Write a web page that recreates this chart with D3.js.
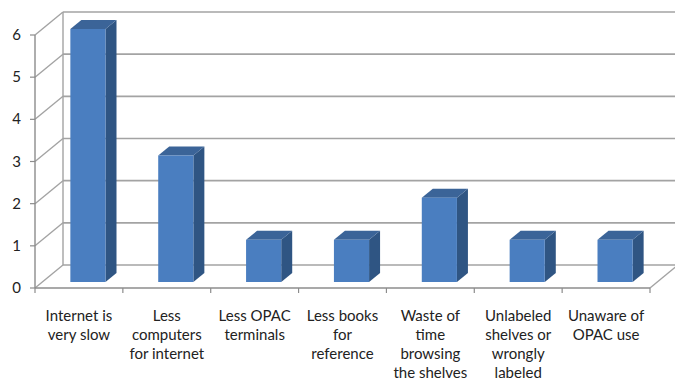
<!DOCTYPE html>
<meta charset="utf-8">
<head>
	<title>Problems faced</title>
</head>
<style>
	body { margin: 0; background: #fff; }
	text { font-family: Lato, "Open Sans", sans-serif; fill: #222; }
</style>
<body>
	<svg width="675" height="380"></svg>

	<script src="https://d3js.org/d3.v7.min.js"></script>
	<script>
var categories = [
	["Internet is", "very slow"],
	["Less", "computers", "for internet"],
	["Less OPAC", "terminals"],
	["Less books", "for", "reference"],
	["Waste of", "time", "browsing", "the shelves"],
	["Unlabeled", "shelves or", "wrongly", "labeled"],
	["Unaware of", "OPAC use"]
];
var values = [6, 3, 1, 1, 2, 1, 1];
var yTicks = [0, 1, 2, 3, 4, 5, 6];

// projection of the depth axis
var depth = {dx: 28, dy: -23};
var barFront = {dx: 9, dy: -6};
var barDepth = {dx: 11, dy: -9};

var svg = d3.select('svg');

var x = d3.scaleBand()
	.domain(d3.range(categories.length))
	.range([35, 650]);

var y = d3.scaleLinear()
	.domain([0, 6])
	.range([288, 35]);

var gridColor = '#a3a3a3';
var bw = x.bandwidth() * 0.4;

// back wall gridlines
svg.append('g').selectAll('line')
	.data(yTicks)
	.enter().append('line')
	.attr('x1', 35 + depth.dx)
	.attr('x2', 680)
	.attr('y1', function(d) {return y(d) + depth.dy;})
	.attr('y2', function(d) {return y(d) + depth.dy;})
	.attr('stroke', gridColor)
	.attr('stroke-width', 1.6);

// side wall diagonals
svg.append('g').selectAll('line')
	.data(yTicks)
	.enter().append('line')
	.attr('x1', 35)
	.attr('x2', 35 + depth.dx)
	.attr('y1', function(d) {return y(d);})
	.attr('y2', function(d) {return y(d) + depth.dy;})
	.attr('stroke', gridColor)
	.attr('stroke-width', 1.4);

// back wall left edge
svg.append('line')
	.attr('x1', 35 + depth.dx).attr('x2', 35 + depth.dx)
	.attr('y1', y(0) + depth.dy).attr('y2', y(6) + depth.dy)
	.attr('stroke', gridColor).attr('stroke-width', 1.4);

// floor right edge
svg.append('line')
	.attr('x1', 650).attr('x2', 650 + depth.dx)
	.attr('y1', y(0)).attr('y2', y(0) + depth.dy)
	.attr('stroke', gridColor).attr('stroke-width', 1.4);

// front axes
svg.append('line')
	.attr('x1', 35).attr('x2', 35)
	.attr('y1', y(0)).attr('y2', y(6))
	.attr('stroke', '#8c8c8c').attr('stroke-width', 1.4);
svg.append('line')
	.attr('x1', 35).attr('x2', 650)
	.attr('y1', y(0)).attr('y2', y(0))
	.attr('stroke', '#8c8c8c').attr('stroke-width', 1.4);

// y ticks and labels
var yAxis = svg.append('g');
yAxis.selectAll('line')
	.data(yTicks)
	.enter().append('line')
	.attr('x1', 30).attr('x2', 35)
	.attr('y1', function(d) {return y(d);})
	.attr('y2', function(d) {return y(d);})
	.attr('stroke', '#8c8c8c').attr('stroke-width', 1.2);
yAxis.selectAll('text')
	.data(yTicks)
	.enter().append('text')
	.attr('x', 21)
	.attr('y', function(d) {return y(d) + 5;})
	.attr('text-anchor', 'end')
	.style('font-size', '15px')
	.text(function(d) {return d;});

// category ticks
svg.append('g').selectAll('line')
	.data(d3.range(categories.length + 1))
	.enter().append('line')
	.attr('x1', function(i) {return 35 + i * x.bandwidth();})
	.attr('x2', function(i) {return 35 + i * x.bandwidth();})
	.attr('y1', y(0)).attr('y2', y(0) + 5)
	.attr('stroke', '#8c8c8c').attr('stroke-width', 1.2);

// bars
var bars = svg.append('g').selectAll('g')
	.data(values)
	.enter().append('g');

function fx(d, i) {return x(i) + x.bandwidth() / 2 - bw / 2 + barFront.dx;}

bars.append('path')
	.attr('fill', '#2f5583')
	.attr('d', function(d, i) {
		var x0 = fx(d, i) + bw, yb = y(0) + barFront.dy, yt = y(d) + barFront.dy;
		return 'M' + x0 + ',' + yb + 'L' + (x0 + barDepth.dx) + ',' + (yb + barDepth.dy) +
			'L' + (x0 + barDepth.dx) + ',' + (yt + barDepth.dy) + 'L' + x0 + ',' + yt + 'Z';
	});
bars.append('path')
	.attr('fill', '#3b6498')
	.attr('d', function(d, i) {
		var x0 = fx(d, i), yt = y(d) + barFront.dy;
		return 'M' + x0 + ',' + yt + 'L' + (x0 + barDepth.dx) + ',' + (yt + barDepth.dy) +
			'L' + (x0 + bw + barDepth.dx) + ',' + (yt + barDepth.dy) + 'L' + (x0 + bw) + ',' + yt + 'Z';
	});
bars.append('rect')
	.attr('fill', '#4a7ec0')
	.attr('x', fx)
	.attr('y', function(d) {return y(d) + barFront.dy;})
	.attr('width', bw)
	.attr('height', function(d) {return y(0) - y(d);});

// category labels
var labels = svg.append('g').selectAll('text')
	.data(categories)
	.enter().append('text')
	.attr('text-anchor', 'middle')
	.style('font-size', '15px')
	.attr('transform', function(d, i) {return 'translate(' + (x(i) + x.bandwidth() / 2) + ',321)';});
labels.selectAll('tspan')
	.data(function(d) {return d;})
	.enter().append('tspan')
	.attr('x', 0)
	.attr('y', function(d, j) {return j * 19;})
	.text(function(d) {return d;});
	</script>
</body>
</html>
